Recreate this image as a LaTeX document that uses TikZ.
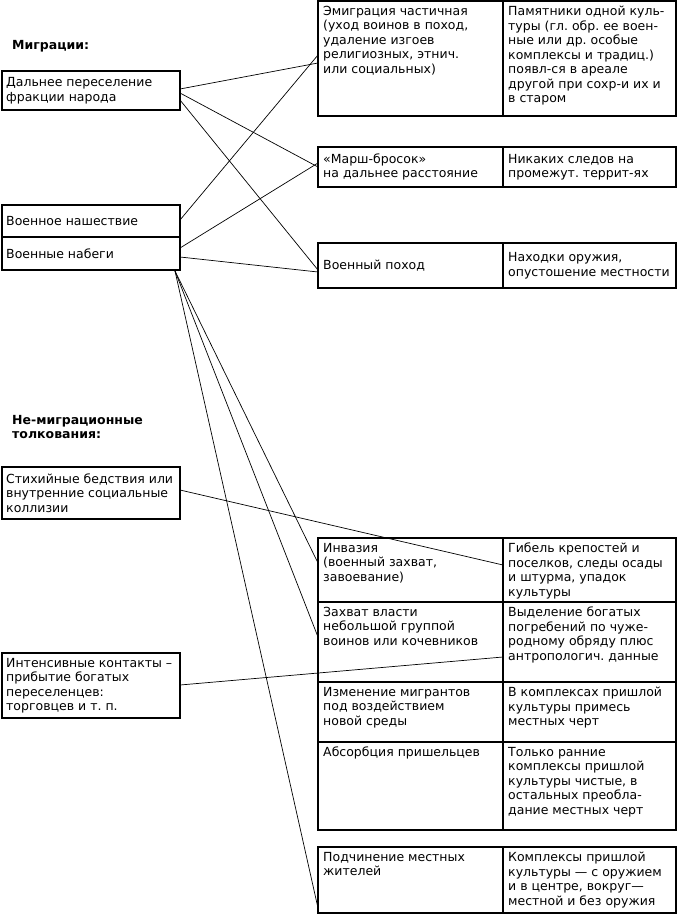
\documentclass[tikz,border=0pt]{standalone}
\usepackage{fontspec}
\setmainfont{DejaVu Sans}
\usetikzlibrary{calc}
\frenchspacing
\begin{document}
\begin{tikzpicture}[x=1pt,y=-1pt,
  cell/.style={draw, line width=1.2pt, rectangle, anchor=north west, inner sep=0pt, outer sep=0pt},
  txt/.style={anchor=north west, align=left, inner sep=0pt, font=\fontsize{12.5}{14.5}\selectfont},
  ltxt/.style={anchor=west, align=left, inner sep=0pt, font=\fontsize{12.5}{14.5}\selectfont},
  hdr/.style={anchor=north west, align=left, inner sep=0pt, font=\bfseries\fontsize{12.5}{14.5}\selectfont},
  conn/.style={line width=0.7pt}]
\useasboundingbox (0,0) rectangle (679,917);

% headers
\node[hdr] (h1) at (12,40) {Миграции:};
\node[hdr] (h2) at (12,415) {Не-миграционные\\толкования:};

% left boxes
\node[cell, minimum width=178, minimum height=39] (dal) at (2,71) {};
\node[ltxt] (dalt) at ($(dal.west)+(4,0)$) {Дальнее переселение\\фракции народа};
\node[cell, minimum width=178, minimum height=32] (vn) at (2,205) {};
\node[ltxt] (vnt) at ($(vn.west)+(4,0)$) {Военное нашествие};
\node[cell, minimum width=178, minimum height=33] (vb) at (2,237) {};
\node[ltxt] (vbt) at ($(vb.west)+(4,0)$) {Военные набеги};
\node[cell, minimum width=178, minimum height=52] (st) at (2,467) {};
\node[ltxt] (stt) at ($(st.west)+(4,0)$) {Стихийные бедствия или\\внутренние социальные\\коллизии};
\node[cell, minimum width=178, minimum height=65] (int) at (2,653) {};
\node[ltxt] (intt) at ($(int.west)+(4,0)$) {Интенсивные контакты --\\прибытие богатых\\переселенцев:\\торговцев и т. п.};

% right boxes: migrations
\node[cell, minimum width=185, minimum height=115] (e1) at (318,1) {};
\node[cell, minimum width=173, minimum height=115] (e2) at (503,1) {};
\node[txt] (e1t) at ($(e1.north west)+(5,5)$) {Эмиграция частичная\\(уход воинов в поход,\\удаление изгоев\\религиозных, этнич.\\или социальных)};
\node[txt] (e2t) at ($(e2.north west)+(5,5)$) {Памятники одной куль-\\туры (гл. обр. ее воен-\\ные или др. особые\\комплексы и традиц.)\\появл-ся в ареале\\другой при сохр-и их и\\в старом};

\node[cell, minimum width=185, minimum height=40] (m1) at (318,147) {};
\node[cell, minimum width=173, minimum height=40] (m2) at (503,147) {};
\node[ltxt] (m1t) at ($(m1.west)+(5,0)$) {«Марш-бросок»\\на дальнее расстояние};
\node[ltxt] (m2t) at ($(m2.west)+(5,0)$) {Никаких следов на\\промежут. террит-ях};

\node[cell, minimum width=185, minimum height=45] (p1) at (318,243) {};
\node[cell, minimum width=173, minimum height=45] (p2) at (503,243) {};
\node[ltxt] (p1t) at ($(p1.west)+(5,0)$) {Военный поход};
\node[ltxt] (p2t) at ($(p2.west)+(5,0)$) {Находки оружия,\\опустошение местности};

% right boxes: non-migrations
\node[cell, minimum width=185, minimum height=64] (i1) at (318,538) {};
\node[cell, minimum width=173, minimum height=64] (i2) at (503,538) {};
\node[txt] (i1t) at ($(i1.north west)+(5,5)$) {Инвазия\\(военный захват,\\завоевание)};
\node[txt] (i2t) at ($(i2.north west)+(5,5)$) {Гибель крепостей и\\поселков, следы осады\\и штурма, упадок\\культуры};

\node[cell, minimum width=185, minimum height=80] (z1) at (318,602) {};
\node[cell, minimum width=173, minimum height=80] (z2) at (503,602) {};
\node[txt] (z1t) at ($(z1.north west)+(5,5)$) {Захват власти\\небольшой группой\\воинов или кочевников};
\node[txt] (z2t) at ($(z2.north west)+(5,5)$) {Выделение богатых\\погребений по чуже-\\родному обряду плюс\\антропологич. данные};

\node[cell, minimum width=185, minimum height=60] (iz1) at (318,682) {};
\node[cell, minimum width=173, minimum height=60] (iz2) at (503,682) {};
\node[txt] (iz1t) at ($(iz1.north west)+(5,5)$) {Изменение мигрантов\\под воздействием\\новой среды};
\node[txt] (iz2t) at ($(iz2.north west)+(5,5)$) {В комплексах пришлой\\культуры примесь\\местных черт};

\node[cell, minimum width=185, minimum height=88] (a1) at (318,742) {};
\node[cell, minimum width=173, minimum height=88] (a2) at (503,742) {};
\node[txt] (a1t) at ($(a1.north west)+(5,5)$) {Абсорбция пришельцев};
\node[txt] (a2t) at ($(a2.north west)+(5,5)$) {Только ранние\\комплексы пришлой\\культуры чистые, в\\остальных преобла-\\дание местных черт};

\node[cell, minimum width=185, minimum height=66] (pd1) at (318,847) {};
\node[cell, minimum width=173, minimum height=66] (pd2) at (503,847) {};
\node[txt] (pd1t) at ($(pd1.north west)+(5,5)$) {Подчинение местных\\жителей};
\node[txt] (pd2t) at ($(pd2.north west)+(5,5)$) {Комплексы пришлой\\культуры — с оружием\\и в центре, вокруг—\\местной и без оружия};

% connectors
\draw[conn] ($(dal.north east)+(0,18)$) -- ($(e1.north west)+(0,62)$);
\draw[conn] ($(dal.north east)+(0,22)$) -- ($(m1.north west)+(0,20)$);
\draw[conn] ($(dal.north east)+(0,29)$) -- ($(p1.north west)+(0,27)$);
\draw[conn] ($(vn.north east)+(0,15)$) -- ($(e1.north west)+(0,54)$);
\draw[conn] ($(vb.north east)+(0,11)$) -- ($(m1.north west)+(0,16)$);
\draw[conn] ($(vb.north east)+(0,20)$) -- ($(p1.north west)+(0,29)$);
\coordinate (vbc) at ($(vb.south east)+(-5,1)$);
\draw[conn] (vbc) -- ($(i1.north west)+(0,25)$);
\draw[conn] (vbc) -- ($(z1.north west)+(0,35)$);
\draw[conn] (vbc) -- ($(pd1.north west)+(0,61)$);
\draw[conn] ($(st.north east)+(0,23)$) -- ($(i1.north east)+(0,27)$);
\draw[conn] ($(int.north east)+(0,32)$) -- ($(z1.north east)+(0,55)$);
\end{tikzpicture}
\end{document}
